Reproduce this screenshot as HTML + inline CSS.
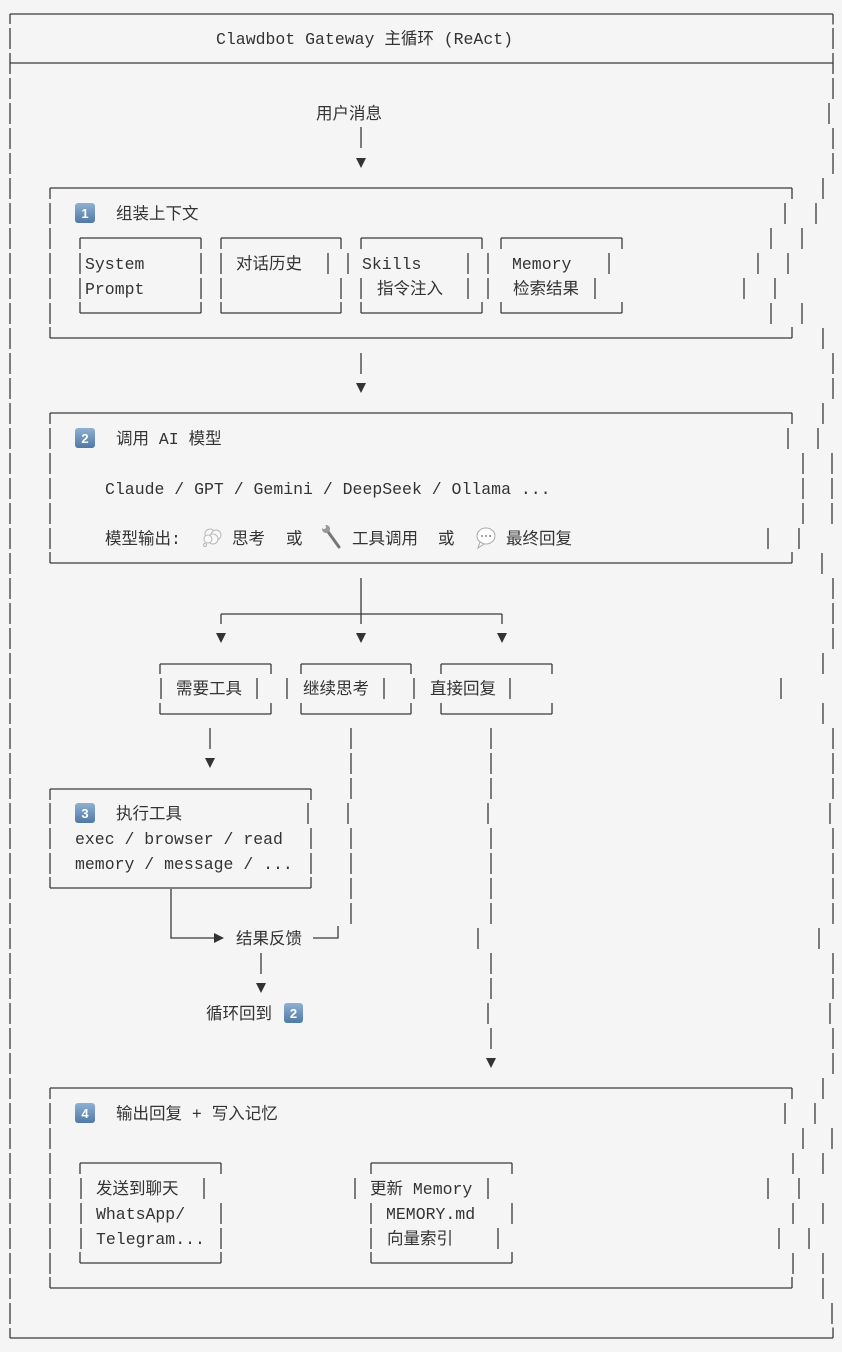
<!DOCTYPE html>
<html><head><meta charset="utf-8"><style>
html,body{margin:0;padding:0;background:#f5f5f5;}
svg{display:block}
text{font-family:"Liberation Mono","Noto Sans CJK SC",monospace;font-size:16.5px;fill:#333;}
.k{font-family:"Liberation Sans",sans-serif;font-size:13px;font-weight:bold;fill:#fff;}
</style></head><body>
<svg width="842" height="1352" viewBox="0 0 842 1352" xmlns="http://www.w3.org/2000/svg">
<defs><linearGradient id="g" x1="0" y1="0" x2="0" y2="1"><stop offset="0" stop-color="#8fb0d3"/><stop offset="1" stop-color="#4f79a6"/></linearGradient></defs>
<rect width="842" height="1352" fill="#f5f5f5"/>
<g stroke="#3a3a3a" stroke-width="1.3" fill="none">
<!-- outer left dashed -->
<line x1="10" y1="14" x2="10" y2="1338" stroke-dasharray="21 4" stroke-dashoffset="11"/>
<!-- outer horizontals -->
<path d="M10 14H833M10 63H833M10 1338H833"/>
<!-- outer right -->
<path d="M833 14v10.5M833 28v21M833 53v21M833 78v21M829 103v21M833 128v21M833 153v21M823 178v21M816 203v21M802 228v21M788 253v21M775 278v21M802 303v21M823 328v21M833 353v21M833 378v21M823 403v21M818 428v21M832 453v21M832 478v21M832 503v21M799 528v21M822 553v21M833 578v21M833 603v21M833 628v21M823 653v21M781 678v21M823 703v21M833 728v21M833 753v21M833 778v21M830 803v21M833 828v21M833 853v21M833 878v21M833 903v21M819 928v21M833 953v21M833 978v21M830 1003v21M833 1028v21M833 1053v21M823 1078v21M815 1103v21M832 1128v21M823 1153v21M799 1178v21M823 1203v21M809 1228v21M823 1253v21M823 1278v21M832 1303v21M833 1327.5v10.5"/>
<!-- box1 -->
<path d="M50 188H792M50 338H792M50 188v11M792 188v11M50 327v11M792 327v11M50 203v21M50 228v21M50 253v21M50 278v21M50 303v21M785 203v21M771 228v21M758 253v21M744 278v21M771 303v21"/>
<!-- box1 sub boxes -->
<path d="M80 238H201M80 313H201M80 238v11M201 238v11M80 302v11M201 302v11M80 253v21M80 278v21M201 253v21M201 278v21"/>
<path d="M221 238H341M221 313H341M221 238v11M341 238v11M221 302v11M341 302v11M221 253v21M221 278v21M328 253v21M341 278v21"/>
<path d="M361 238H482M361 313H482M361 238v11M482 238v11M361 302v11M482 302v11M348 253v21M361 278v21M468 253v21M468 278v21"/>
<path d="M501 238H622M501 313H622M501 238v11M622 238v11M501 302v11M622 302v11M488 253v21M488 278v21M609 253v21M595 278v21"/>
<!-- connectors -->
<path d="M361 127v21M361 353v21"/>
<!-- box2 -->
<path d="M50 413H792M50 563H792M50 413v11M792 413v11M50 552v11M792 552v11M50 428v21M50 453v21M50 478v21M50 503v21M50 528v21M788 428v21M803 453v21M803 478v21M803 503v21M768 528v21"/>
<!-- branch -->
<path d="M361 578v46M221 614H502M221 614v10M502 614v10"/>
<!-- three boxes -->
<path d="M160 664H271M160 714H271M160 664v10M271 664v10M160 703v11M271 703v11M161 678v21M257 678v21"/>
<path d="M301 664H411M301 714H411M301 664v10M411 664v10M301 703v11M411 703v11M287 678v21M384 678v21"/>
<path d="M441 664H552M441 714H552M441 664v10M552 664v10M441 703v11M552 703v11M414 678v21M510 678v21"/>
<!-- downward lines -->
<path d="M210 728v21"/>
<path d="M351 728v21M351 753v21M351 778v21M348 803v21M351 828v21M351 853v21M351 878v21M351 903v21"/>
<path d="M491 728v21M491 753v21M491 778v21M488 803v21M491 828v21M491 853v21M491 878v21M491 903v21M478 928v21M491 953v21M491 978v21M488 1003v21M491 1028v21"/>
<!-- box3 -->
<path d="M50 789H311M50 888H311M50 789v11M311 789v11M50 877v11M311 877v11M50 803v21M50 828v21M50 853v21M308 803v21M311 828v21M311 853v21"/>
<!-- feedback -->
<path d="M171 889v49H214M313 938H338V926M261 953v21"/>
<!-- box4 -->
<path d="M50 1088H792M50 1288H792M50 1088v11M792 1088v11M50 1277v11M792 1277v11M50 1103v21M50 1128v21M50 1153v21M50 1178v21M50 1203v21M50 1228v21M50 1253v21M785 1103v21M803 1128v21M793 1153v21M768 1178v21M793 1203v21M779 1228v21M793 1253v21"/>
<path d="M80 1163H221M80 1263H221M80 1163v11M221 1163v11M80 1252v11M221 1252v11M81 1178v21M81 1203v21M81 1228v21M204 1178v21M221 1203v21M221 1228v21"/>
<path d="M371 1163H512M371 1263H512M371 1163v11M512 1163v11M371 1252v11M512 1252v11M355 1178v21M371 1203v21M371 1228v21M488 1178v21M512 1203v21M498 1228v21"/>
</g>
<!-- arrowheads -->
<g fill="#333">
<path d="M356 158h10l-5 10z"/>
<path d="M356 383h10l-5 10z"/>
<path d="M216 633h10l-5 10z"/>
<path d="M356 633h10l-5 10z"/>
<path d="M497 633h10l-5 10z"/>
<path d="M205 758h10l-5 10z"/>
<path d="M256 983h10l-5 10z"/>
<path d="M486 1058h10l-5 10z"/>
<path d="M214 933v10l10-5z"/>
</g>
<!-- keycaps -->
<g>
<rect x="75" y="203" width="20" height="20" rx="3" fill="url(#g)"/><text class="k" x="85" y="218" text-anchor="middle">1</text>
<rect x="75" y="428" width="20" height="20" rx="3" fill="url(#g)"/><text class="k" x="85" y="443" text-anchor="middle">2</text>
<rect x="75" y="803" width="20" height="20" rx="3" fill="url(#g)"/><text class="k" x="85" y="818" text-anchor="middle">3</text>
<rect x="75" y="1103" width="20" height="20" rx="3" fill="url(#g)"/><text class="k" x="85" y="1118" text-anchor="middle">4</text>
<rect x="284" y="1003" width="19" height="20" rx="3" fill="url(#g)"/><text class="k" x="293.5" y="1018" text-anchor="middle">2</text>
</g>
<!-- emoji shapes -->
<g>
<g fill="#fafafa" stroke="#b8b8b8" stroke-width="1"><circle cx="210" cy="534" r="5"/><circle cx="216" cy="535" r="5"/><circle cx="213" cy="539" r="5"/><circle cx="208" cy="539" r="4"/><circle cx="205" cy="545" r="1.5"/></g>
<g><path d="M326 529 L339 547" stroke="#777" stroke-width="3" stroke-linecap="round"/><circle cx="326" cy="529" r="4" fill="#999"/><circle cx="324" cy="527" r="2" fill="#f5f5f5"/></g>
<g><ellipse cx="486" cy="536" rx="9" ry="8" fill="#fff" stroke="#aaa"/><path d="M480 542 l-2 6 l6 -4z" fill="#fff" stroke="#aaa"/><circle cx="482" cy="536" r="1" fill="#888"/><circle cx="486" cy="536" r="1" fill="#888"/><circle cx="490" cy="536" r="1" fill="#888"/></g>
</g>
<!-- text -->
<text x="216" y="44">Clawdbot Gateway 主循环 (ReAct)</text>
<text x="316" y="119">用户消息</text>
<text x="116" y="219">组装上下文</text>
<text x="85" y="269">System</text>
<text x="85" y="294">Prompt</text>
<text x="236" y="269">对话历史</text>
<text x="362" y="269">Skills</text>
<text x="377" y="294">指令注入</text>
<text x="512" y="269">Memory</text>
<text x="513" y="294">检索结果</text>
<text x="116" y="444">调用 AI 模型</text>
<text x="105" y="494">Claude / GPT / Gemini / DeepSeek / Ollama ...</text>
<text x="105" y="544">模型输出:</text>
<text x="232" y="544">思考</text>
<text x="286" y="544">或</text>
<text x="352" y="544">工具调用</text>
<text x="438" y="544">或</text>
<text x="506" y="544">最终回复</text>
<text x="176" y="694">需要工具</text>
<text x="303" y="694">继续思考</text>
<text x="430" y="694">直接回复</text>
<text x="116" y="819">执行工具</text>
<text x="75" y="844">exec / browser / read</text>
<text x="75" y="869">memory / message / ...</text>
<text x="236" y="944">结果反馈</text>
<text x="206" y="1019">循环回到</text>
<text x="116" y="1119">输出回复 + 写入记忆</text>
<text x="96" y="1194">发送到聊天</text>
<text x="96" y="1219">WhatsApp/</text>
<text x="96" y="1244">Telegram...</text>
<text x="370" y="1194">更新 Memory</text>
<text x="386" y="1219">MEMORY.md</text>
<text x="387" y="1244">向量索引</text>
</svg>
</body></html>
